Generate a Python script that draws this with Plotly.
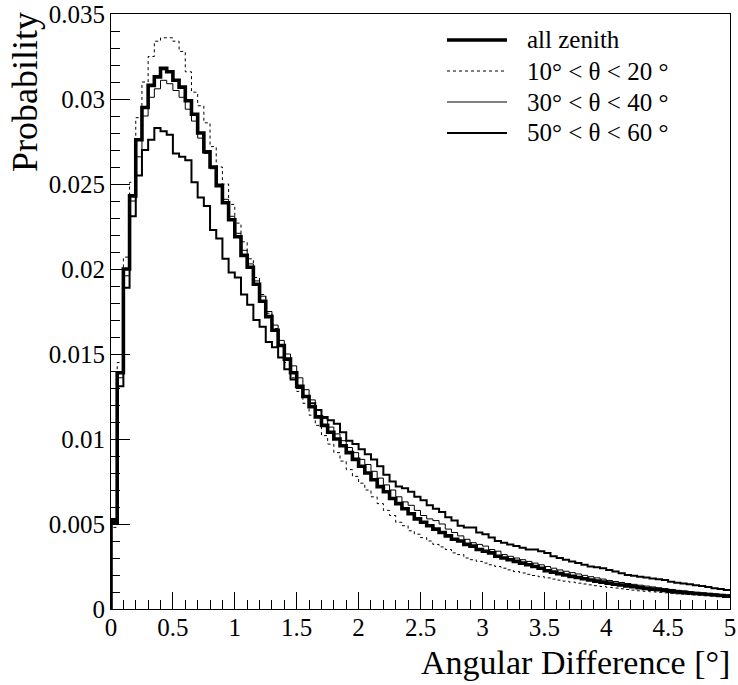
import numpy as np
import plotly.graph_objects as go

# ---- data: 100 bins of width 0.05 deg from 0 to 5 deg ----
x_min, x_max, n_bins = 0.0, 5.0, 100

all_zenith = [
    0.0051, 0.0139, 0.0200, 0.0243, 0.0276, 0.0295, 0.0308, 0.0313, 0.0318, 0.0316,
    0.0311, 0.0307, 0.0299, 0.0291, 0.0280, 0.0269, 0.0260, 0.0249, 0.0239, 0.0229,
    0.0219, 0.0208, 0.0201, 0.0191, 0.0181, 0.0172, 0.0164, 0.0155, 0.0147, 0.0139,
    0.0131, 0.0125, 0.0119, 0.0113, 0.0108, 0.0104, 0.0100, 0.0096, 0.0092, 0.0088,
    0.0084, 0.0080, 0.0076, 0.0072, 0.0069, 0.0065, 0.0062, 0.0059, 0.0056, 0.0053,
    0.0051, 0.0049, 0.0047, 0.0045, 0.0043, 0.0041, 0.0040, 0.0038, 0.0037, 0.0035,
    0.0034, 0.0033, 0.0031, 0.0030, 0.0029, 0.0028, 0.0027, 0.0026, 0.0025, 0.0024,
    0.00225, 0.00217, 0.00208, 0.00200, 0.00192, 0.00185, 0.00178, 0.00171, 0.00164, 0.00158,
    0.00152, 0.00146, 0.00141, 0.00136, 0.00131, 0.00126, 0.00121, 0.00117, 0.00113, 0.00109,
    0.00105, 0.00101, 0.00098, 0.00094, 0.00091, 0.00088, 0.00085, 0.00082, 0.00079, 0.00076,
]

theta_10_20 = [
    0.0048, 0.0145, 0.0207, 0.0251, 0.0289, 0.0310, 0.0325, 0.0334, 0.0336, 0.0336,
    0.0334, 0.0328, 0.0316, 0.0304, 0.0296, 0.0286, 0.0272, 0.0260, 0.0250, 0.0238,
    0.0227, 0.0216, 0.0206, 0.0195, 0.0185, 0.0174, 0.0165, 0.0155, 0.0145, 0.0136,
    0.0128, 0.0121, 0.0114, 0.0108, 0.0102, 0.0097, 0.0092, 0.0087, 0.0082, 0.0078,
    0.0074, 0.0070, 0.0066, 0.0062, 0.0058, 0.0055, 0.0051, 0.0049, 0.0046, 0.0044,
    0.0042, 0.0040, 0.0038, 0.00365, 0.0035, 0.0033, 0.0032, 0.0030, 0.0029, 0.0028,
    0.0027, 0.0026, 0.0025, 0.0024, 0.0023, 0.0022, 0.00212, 0.00204, 0.00197, 0.0019,
    0.00183, 0.00176, 0.0017, 0.00164, 0.00158, 0.00152, 0.00147, 0.00142, 0.00137, 0.00132,
    0.00127, 0.00123, 0.00119, 0.00115, 0.00111, 0.00107, 0.00104, 0.00101, 0.00098, 0.00095,
    0.00092, 0.00089, 0.00087, 0.00085, 0.00083, 0.00081, 0.00079, 0.00077, 0.00075, 0.00073,
]

theta_30_40 = [
    0.0052, 0.0136, 0.0196, 0.0240, 0.0266, 0.0290, 0.0301, 0.0306, 0.0311, 0.0309,
    0.0305, 0.0301, 0.0294, 0.0287, 0.0277, 0.0268, 0.0259, 0.0250, 0.0241, 0.0231,
    0.0221, 0.0211, 0.0203, 0.0193, 0.0184, 0.0175, 0.0167, 0.0158, 0.0150, 0.0143,
    0.0136, 0.0129, 0.0123, 0.0117, 0.0112, 0.0107, 0.0103, 0.0099, 0.0095, 0.0092,
    0.0088, 0.0085, 0.0081, 0.0077, 0.0073, 0.0070, 0.0066, 0.0063, 0.0061, 0.0058,
    0.0055, 0.0053, 0.0052, 0.0050, 0.0047, 0.0045, 0.0043, 0.0041, 0.0039, 0.0038,
    0.0037, 0.0035, 0.0034, 0.0032, 0.0031, 0.0030, 0.0029, 0.0028, 0.0027, 0.0026,
    0.0025, 0.0024, 0.0023, 0.00222, 0.00214, 0.00206, 0.00198, 0.0019, 0.00183, 0.00176,
    0.00168, 0.00162, 0.00156, 0.0015, 0.00145, 0.0014, 0.00135, 0.0013, 0.00125, 0.0012,
    0.00115, 0.0011, 0.00106, 0.00102, 0.00098, 0.00095, 0.00092, 0.00089, 0.00086, 0.00083,
]

theta_50_60 = [
    0.0053, 0.0131, 0.0189, 0.0231, 0.0255, 0.0270, 0.0276, 0.0283, 0.0281, 0.0279,
    0.0268, 0.0266, 0.0264, 0.0251, 0.0242, 0.0237, 0.0223, 0.0218, 0.0206, 0.0198,
    0.0195, 0.0185, 0.0179, 0.0170, 0.0166, 0.0157, 0.0154, 0.0148, 0.0141, 0.0135,
    0.0130, 0.0125, 0.0121, 0.0117, 0.0113, 0.0111, 0.0109, 0.0104, 0.0099, 0.0097,
    0.0094, 0.0091, 0.0088, 0.0084, 0.0079, 0.0075, 0.0072, 0.0071, 0.0069, 0.0066,
    0.0064, 0.0061, 0.0059, 0.0057, 0.0054, 0.0052, 0.0049, 0.0048, 0.0048, 0.0045,
    0.0044, 0.0042, 0.0040, 0.0039, 0.0038, 0.0037, 0.0036, 0.0035, 0.0035, 0.0034,
    0.0033, 0.0031, 0.0030, 0.0029, 0.0028, 0.0027, 0.0026, 0.0025, 0.00245, 0.0024,
    0.0023, 0.0022, 0.0021, 0.0020, 0.00195, 0.0019, 0.00185, 0.0018, 0.00175, 0.0017,
    0.0016, 0.00155, 0.0015, 0.00145, 0.0014, 0.00135, 0.0013, 0.00122, 0.00118, 0.00112,
]

series_labels = ["all zenith", "10° &lt; θ &lt; 20 °", "30° &lt; θ &lt; 40 °", "50° &lt; θ &lt; 60 °"]
x_tick_vals = [0, 0.5, 1, 1.5, 2, 2.5, 3, 3.5, 4, 4.5, 5]
x_tick_text = ["0", "0.5", "1", "1.5", "2", "2.5", "3", "3.5", "4", "4.5", "5"]
y_tick_vals = [0, 0.005, 0.01, 0.015, 0.02, 0.025, 0.03, 0.035]
y_tick_text = ["0", "0.005", "0.01", "0.015", "0.02", "0.025", "0.03", "0.035"]

# ---- styles ----
FONT = "Liberation Serif, Times New Roman, serif"
styles = {
    "all zenith": dict(width=3.6, dash="solid"),
    "10-20": dict(width=1.0, dash="3px,3px"),
    "30-40": dict(width=1.0, dash="solid"),
    "50-60": dict(width=2.0, dash="solid"),
}

edges = np.linspace(x_min, x_max, n_bins + 1)


def step_xy(vals):
    # ROOT-like histogram outline: start at y=0 on the left edge
    xs = [edges[0]] + list(edges[:-1]) + [edges[-1]]
    ys = [0.0] + list(vals) + [vals[-1]]
    return xs, ys


fig = go.Figure()
order = [("10-20", theta_10_20), ("30-40", theta_30_40), ("50-60", theta_50_60),
         ("all zenith", all_zenith)]
for key, vals in order:
    xs, ys = step_xy(vals)
    st = styles[key]
    fig.add_trace(go.Scatter(
        x=xs, y=ys, mode="lines", line_shape="hv",
        line=dict(color="black", width=st["width"], dash=st["dash"]),
        showlegend=False, hoverinfo="skip",
    ))

# ---- manual ROOT-style legend (paper coordinates) ----
plot_h = 595.0
legend_rows_px = [40, 71, 102, 133]   # px from top of figure
legend_keys = ["all zenith", "10-20", "30-40", "50-60"]
line_x0, line_x1, text_x = 336 / 619, 396 / 619, 414 / 619
for key, label, ypx in zip(legend_keys, series_labels, legend_rows_px):
    yp = 1 - (ypx - 14) / plot_h
    st = styles[key]
    fig.add_shape(type="line", xref="paper", yref="paper",
                  x0=line_x0, x1=line_x1, y0=yp, y1=yp,
                  line=dict(color="black", width=st["width"], dash=st["dash"]))
    fig.add_annotation(xref="paper", yref="paper", x=text_x, y=yp,
                       xanchor="left", yanchor="middle", showarrow=False,
                       text=label, font=dict(family=FONT, size=25, color="black"))

# ---- axis titles (ROOT style: right / top aligned) ----
fig.add_annotation(xref="paper", yref="paper", x=1.0, xshift=2, y=0, yshift=-33,
                   xanchor="right", yanchor="top", showarrow=False,
                   text="Angular Difference [°]",
                   font=dict(family=FONT, size=34, color="black"))
fig.add_annotation(xref="paper", yref="paper", x=0, xshift=-86, y=1.0, yshift=4,
                   xanchor="center", yanchor="top", showarrow=False, textangle=-90,
                   text="Probability",
                   font=dict(family=FONT, size=36, color="black"))

axis_common = dict(
    showline=True, linecolor="black", linewidth=1, mirror=True,
    showgrid=False, zeroline=False, automargin=False,
    ticks="inside", tickcolor="black", tickwidth=1,
    tickfont=dict(family=FONT, size=25, color="black"),
)
fig.update_xaxes(range=[x_min, x_max], tickmode="array",
                 tickvals=x_tick_vals, ticktext=x_tick_text, ticklen=17,
                 ticklabelstandoff=-4,
                 minor=dict(dtick=0.1, ticks="inside", ticklen=9, tickcolor="black",
                            tickwidth=1, showgrid=False),
                 **axis_common)
fig.update_yaxes(range=[0, 0.035], tickmode="array",
                 tickvals=y_tick_vals, ticktext=y_tick_text, ticklen=19,
                 minor=dict(dtick=0.001, ticks="inside", ticklen=9, tickcolor="black",
                            tickwidth=1, showgrid=False),
                 **axis_common)

fig.update_layout(
    width=738, height=685,
    margin=dict(l=111, r=8, t=14, b=76, autoexpand=False),
    paper_bgcolor="white", plot_bgcolor="white",
    font=dict(family=FONT, color="black"),
)

fig.write_html("out.html")
